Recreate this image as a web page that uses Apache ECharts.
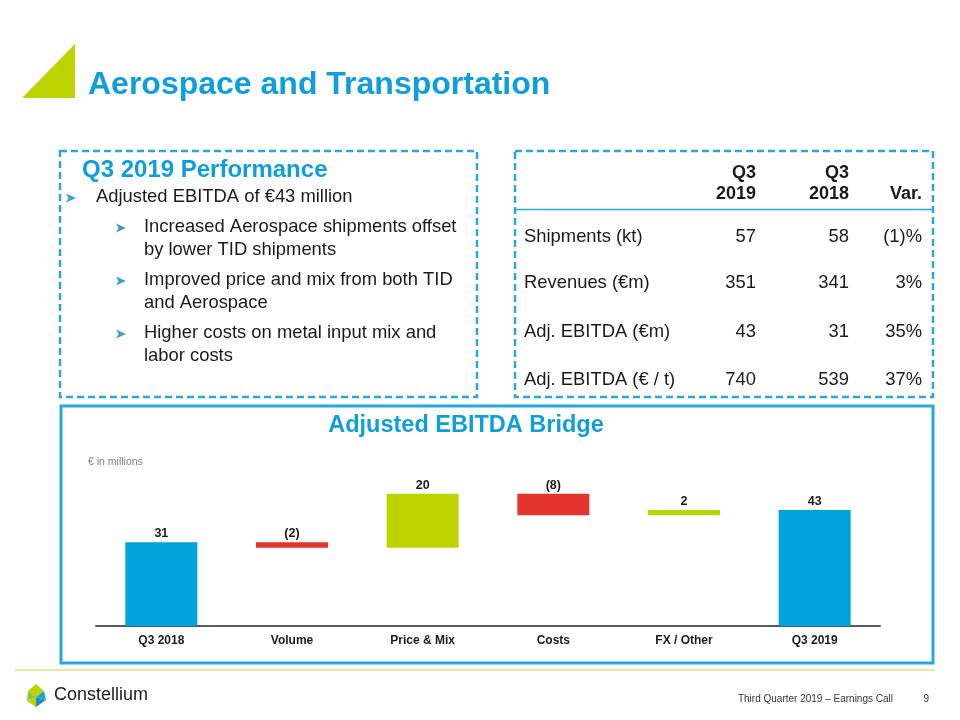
<!DOCTYPE html>
<html>
<head>
<meta charset="utf-8">
<script src="https://cdn.jsdelivr.net/npm/echarts@6/dist/echarts.min.js"></script>
<style>
html,body{margin:0;padding:0;background:#fff;}
#main{width:960px;height:720px;}
</style>
</head>
<body>
<div id="main"></div>
<script>
// ---- data ----
var categories = ['Q3 2018', 'Volume', 'Price & Mix', 'Costs', 'FX / Other', 'Q3 2019'];
var changes = [31, -2, 20, -8, 2, 43];
var isTotal = [true, false, false, false, false, true];
var valueLabels = ['31', '(2)', '20', '(8)', '2', '43'];

var tableCols = ['Q3\n2019', 'Q3\n2018', 'Var.'];
var tableRows = ['Shipments (kt)', 'Revenues (€m)', 'Adj. EBITDA (€m)', 'Adj. EBITDA (€ / t)'];
var colQ32019 = ['57', '351', '43', '740'];
var colQ32018 = ['58', '341', '31', '539'];
var colVar = ['(1)%', '3%', '35%', '37%'];

var bullets = [
  {level: 0, lines: ['Adjusted EBITDA of €43 million']},
  {level: 1, lines: ['Increased Aerospace shipments offset', 'by lower TID shipments']},
  {level: 1, lines: ['Improved price and mix from both TID', 'and Aerospace']},
  {level: 1, lines: ['Higher costs on metal input mix and', 'labor costs']}
];

// ---- colours ----
var BLUE = '#00A3DA', RED = '#E3352E', GREEN = '#BDD300', TITLE = '#0E9FDA', BORDER = '#2BA6D6';

// waterfall: base (invisible) + visible delta
var baseData = [], barData = [], running = 0;
for (var i = 0; i < changes.length; i++) {
  var c = changes[i];
  if (isTotal[i]) {
    baseData.push(0);
    barData.push({value: c, itemStyle: {color: BLUE}});
    running = c;
  } else {
    var lo = c < 0 ? running + c : running;
    baseData.push(lo);
    barData.push({value: Math.abs(c), itemStyle: {color: c < 0 ? RED : GREEN}});
    running += c;
  }
}

var FONT = 'Liberation Sans';

function txt(x, y, s, size, opts) {
  opts = opts || {};
  return {type: 'text', x: x, y: y, style: {
    text: s, fontSize: size, fontFamily: opts.family || FONT, fontWeight: opts.bold ? 'bold' : 'normal',
    fill: opts.color || '#1a1a1a', textAlign: opts.align || 'left', textVerticalAlign: 'middle'}};
}

var g = [];
// green triangle
g.push({type: 'polygon', shape: {points: [[22, 98], [75, 44], [75, 98]]}, style: {fill: GREEN}});
// main title
g.push(txt(88, 85, 'Aerospace and Transportation', 32, {bold: true, color: TITLE}));

// boxes
g.push({type: 'rect', shape: {x: 60, y: 151, width: 417, height: 246}, style: {fill: 'none', stroke: BORDER, lineWidth: 2.5, lineDash: [7, 4]}});
g.push({type: 'rect', shape: {x: 515, y: 151, width: 418, height: 246}, style: {fill: 'none', stroke: BORDER, lineWidth: 2.5, lineDash: [7, 4]}});
g.push({type: 'rect', shape: {x: 61, y: 406, width: 872, height: 257}, style: {fill: 'none', stroke: '#29A8DF', lineWidth: 3}});

// left box content
g.push(txt(82, 170, 'Q3 2019 Performance', 24, {bold: true, color: TITLE}));
function arrow(x, y) {
  return {type: 'polygon', shape: {points: [[x, y - 4.5], [x + 10, y], [x, y + 4.5], [x + 2.5, y]]}, style: {fill: '#3AA0D0'}};
}
var by = [197, 227, 280, 333];
var lineH = 22.5;
for (var b = 0; b < bullets.length; b++) {
  var bl = bullets[b];
  var tx = bl.level === 0 ? 96 : 144;
  var ax = bl.level === 0 ? 66 : 116;
  g.push(arrow(ax, by[b] + 1));
  for (var l = 0; l < bl.lines.length; l++) {
    g.push(txt(tx, by[b] + l * lineH, bl.lines[l], 18.4));
  }
}

// table
var colRight = [756, 849, 922];
for (var c2 = 0; c2 < tableCols.length; c2++) {
  var parts = tableCols[c2].split('\n');
  for (var p = 0; p < parts.length; p++) {
    var yy = parts.length === 2 ? 173 + p * 21 : 194;
    g.push(txt(colRight[c2], yy, parts[p], 18, {bold: true, align: 'right'}));
  }
}
g.push({type: 'line', shape: {x1: 516, y1: 209.5, x2: 932, y2: 209.5}, style: {stroke: BORDER, lineWidth: 1.5}});
var rowY = [237, 283, 332, 380];
var cols = [colQ32019, colQ32018, colVar];
for (var r = 0; r < tableRows.length; r++) {
  g.push(txt(524, rowY[r], tableRows[r], 18.4));
  for (var k = 0; k < cols.length; k++) {
    g.push(txt(colRight[k], rowY[r], cols[k][r], 18.4, {align: 'right'}));
  }
}

// chart titles
g.push(txt(466, 426, 'Adjusted EBITDA Bridge', 23.5, {bold: true, color: TITLE, align: 'center'}));
g.push(txt(88, 462, '€ in millions', 10.5, {color: '#7f7f7f'}));

// footer
g.push({type: 'line', shape: {x1: 15, y1: 670, x2: 935, y2: 670}, style: {stroke: '#DCE680', lineWidth: 1.5}});
// logo icon
g.push({type: 'polygon', shape: {points: [[36, 684], [44, 691], [36, 697], [28, 691]]}, style: {fill: GREEN}});
g.push({type: 'polygon', shape: {points: [[36, 697], [44, 691], [46, 700]]}, style: {fill: '#1BA3D9'}});
g.push({type: 'polygon', shape: {points: [[28, 691], [36, 697], [27, 701]]}, style: {fill: '#8CC63F'}});
g.push({type: 'polygon', shape: {points: [[27, 701], [36, 697], [36, 707]]}, style: {fill: GREEN}});
g.push({type: 'polygon', shape: {points: [[36, 697], [46, 700], [36, 707]]}, style: {fill: '#1E90C8'}});
g.push(txt(54, 695, 'Constellium', 18, {color: '#1a1a1a'}));
g.push(txt(893, 699, 'Third Quarter 2019 – Earnings Call', 10, {color: '#333', align: 'right'}));
g.push(txt(929, 699, '9', 10, {color: '#333', align: 'right'}));

var chart = echarts.init(document.getElementById('main'), null, {renderer: 'canvas'});
chart.setOption({
  backgroundColor: '#fff',
  animation: false,
  grid: {left: 96, right: 80, top: 491, bottom: 94},
  xAxis: {
    type: 'category',
    data: categories,
    axisLine: {lineStyle: {color: '#595959', width: 2}},
    axisTick: {show: false},
    axisLabel: {color: '#1a1a1a', fontWeight: 'bold', fontSize: 12, fontFamily: FONT, margin: 9}
  },
  yAxis: {type: 'value', min: 0, max: 50, show: false, splitLine: {show: false}},
  series: [
    {type: 'bar', stack: 'w', data: baseData, barWidth: 72, itemStyle: {color: 'transparent'}, silent: true},
    {type: 'bar', stack: 'w', data: barData, barWidth: 72,
      label: {show: true, position: 'top', distance: 2, color: '#1a1a1a', fontWeight: 'bold', fontSize: 12.5, fontFamily: FONT,
        formatter: function (p) { return valueLabels[p.dataIndex]; }}}
  ],
  graphic: g
});
</script>
</body>
</html>
